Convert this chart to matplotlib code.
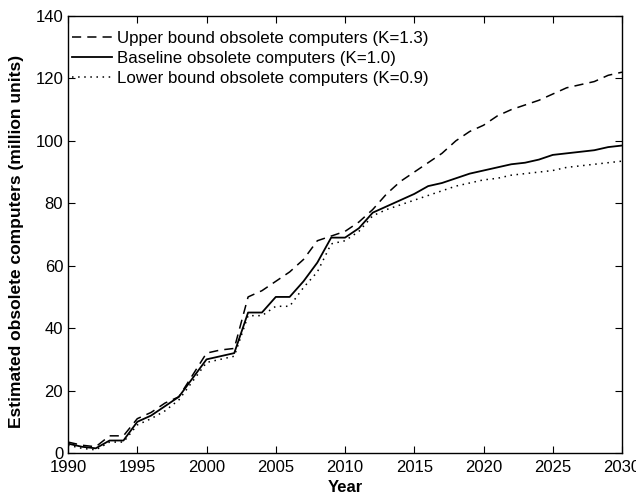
import numpy as np
import matplotlib.pyplot as plt

years = list(range(1990, 2031))

upper = [3.5, 2.5, 2, 5.5, 5.5, 11, 13, 16, 18, 25, 32, 33, 33.5, 50, 52, 55, 58, 62, 68, 69.5,
         71, 74, 78, 83, 87, 90, 93, 96, 100, 103, 105, 108, 110, 111.5, 113, 115, 117, 118, 119, 121, 122]
baseline = [3, 2, 1.5, 4, 4, 10, 12, 15, 18, 24, 30, 31, 32, 45, 45, 50, 50, 55, 61, 69,
            69, 72, 77, 79, 81, 83, 85.5, 86.5, 88, 89.5, 90.5, 91.5, 92.5, 93, 94, 95.5, 96, 96.5, 97, 98, 98.5]
lower = [2.5, 1.5, 1, 3.5, 3.5, 9, 11, 13.5, 17, 23, 29, 30, 31, 44, 44, 47, 47, 53, 58, 67,
         68, 71, 76, 78, 79.5, 81, 82.5, 84, 85.5, 86.5, 87.5, 88, 89, 89.5, 90, 90.5, 91.5, 92, 92.5, 93, 93.5]

labels = ["Upper bound obsolete computers (K=1.3)",
          "Baseline obsolete computers (K=1.0)",
          "Lower bound obsolete computers (K=0.9)"]

plt.rcParams['font.family'] = ['Liberation Sans', 'DejaVu Sans']

fig = plt.figure(figsize=(6.36, 5), dpi=100)
ax = fig.add_axes([0.107, 0.094, 0.871, 0.874])

ax.plot(years, upper, color='k', linestyle=(0, (6, 4)), linewidth=1.1, label=labels[0])
ax.plot(years, baseline, color='k', linestyle='-', linewidth=1.3, label=labels[1])
ax.plot(years, lower, color='k', linestyle=(0, (1, 3)), linewidth=1.1, label=labels[2])

ax.set_xlim(1990, 2030)
ax.set_ylim(0, 140)
ax.set_xticks(range(1990, 2031, 5))
ax.set_yticks(range(0, 141, 20))
ax.tick_params(direction='in', top=True, right=True, labelsize=12, length=5)
ax.tick_params(axis='x', pad=5)
for s in ax.spines.values():
    s.set_linewidth(1.0)

ax.set_xlabel("Year", fontsize=12, fontweight='bold', labelpad=4)
ax.set_ylabel("Estimated obsolete computers (million units)", fontsize=12.5, fontweight='bold')
ax.yaxis.set_label_coords(-0.079, 0.483)

ax.legend(loc='upper left', frameon=False, fontsize=12.2, handlelength=2.4,
          handletextpad=0.3, labelspacing=0.3, bbox_to_anchor=(-0.021, 1.0))

fig.savefig("out.png", dpi=100)
